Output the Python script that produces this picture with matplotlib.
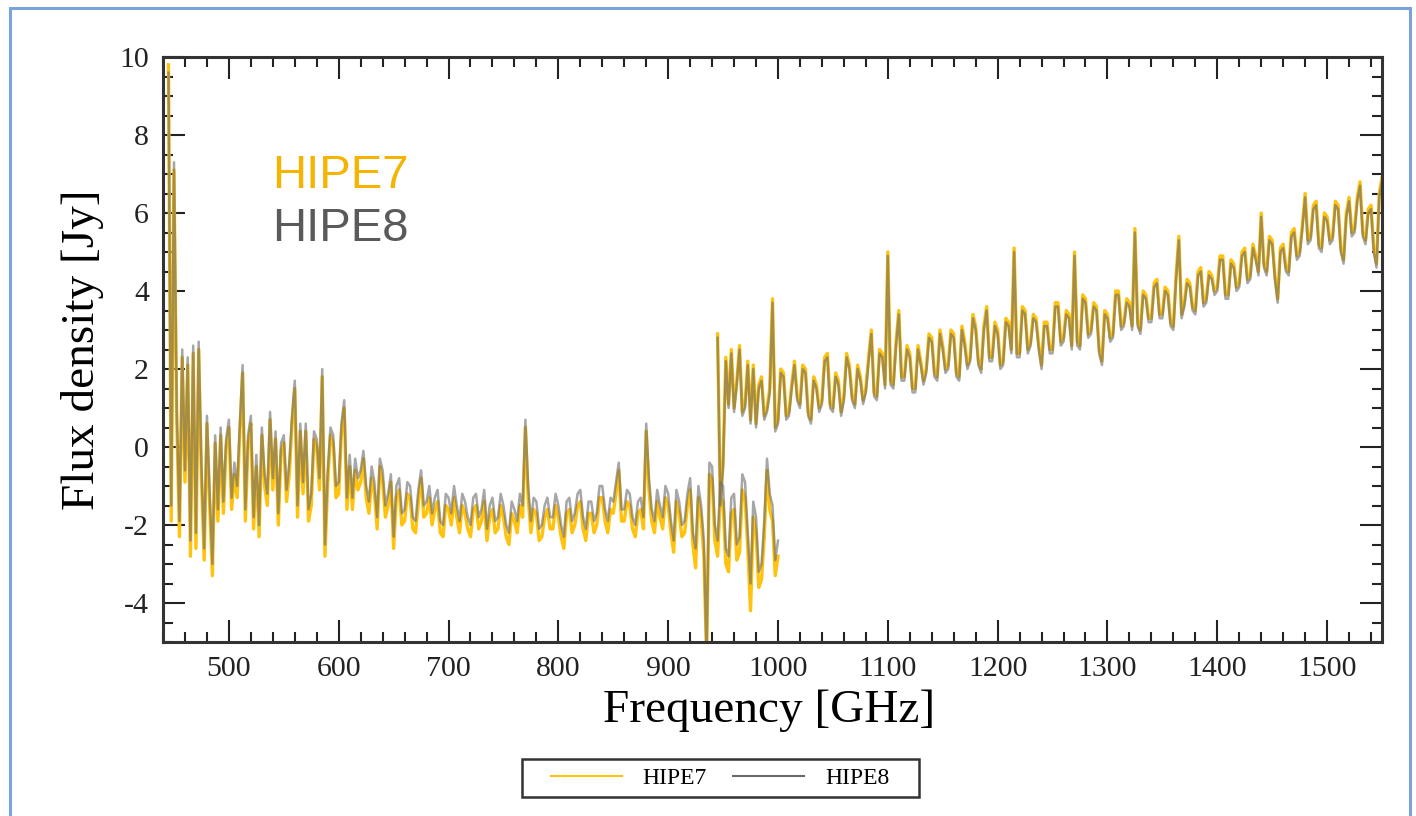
import numpy as np
import matplotlib
matplotlib.use('Agg')
import matplotlib.pyplot as plt
from matplotlib.lines import Line2D
from matplotlib.patches import Rectangle

plt.rcParams['axes.unicode_minus'] = False

# SLW band: flux [Jy], one value every 2.5 GHz starting at 445 GHz
slw_start = 445.0
slw_hipe8 = [9.6, -1.5, 7.3, 1.0, -1.9, 2.5, -0.6, 2.3, -2.4, 2.6,
             -2.2, 2.7, -0.5, -2.6, 0.8, -1.2, -3.0, 0.3, -1.6, 0.5,
             -1.4, 0.2, 0.7, -1.3, -0.4, -1.0, 0.6, 2.1, -1.6, 0.3,
             0.8, -1.8, -0.2, -2.0, 0.5, -0.7, -1.2, 0.9, -0.8, 0.4,
             -1.7, 0.1, 0.3, -1.1, -0.4, 0.8, 1.7, -1.5, 0.6, -0.9,
             0.6, -1.6, -1.2, 0.4, 0.2, -0.8, 2.0, -2.5, -0.6, 0.5,
             0.3, -1.0, -0.9, 0.6, 1.2, -1.3, -0.2, -1.3, -0.3, -0.8,
             -0.6, -0.1, -1.0, -1.4, -0.5, -0.9, -1.8, -0.3, -0.6, -1.5,
             -1.2, -0.7, -2.3, -1.0, -0.8, -1.7, -1.6, -0.9, -1.0, -1.8,
             -1.9, -1.1, -0.6, -1.5, -1.4, -1.0, -1.7, -1.3, -1.1, -1.9,
             -2.0, -1.2, -1.3, -1.7, -1.0, -1.5, -1.9, -1.2, -1.4, -1.8,
             -2.0, -1.3, -1.2, -1.8, -1.6, -1.1, -2.1, -1.5, -1.3, -1.9,
             -1.8, -1.2, -1.5, -2.0, -2.2, -1.4, -1.6, -1.9, -1.2, -1.5,
             0.7, -1.0, -1.9, -1.3, -1.4, -2.1, -2.0, -1.5, -1.3, -1.8,
             -1.8, -1.2, -1.5, -2.0, -2.3, -1.4, -1.3, -1.9, -1.7, -1.2,
             -1.1, -1.8, -2.1, -1.4, -1.4, -1.9, -1.7, -1.0, -1.0, -1.6,
             -1.9, -1.3, -1.4, -0.9, -0.4, -1.6, -1.6, -1.1, -1.2, -1.8,
             -2.0, -1.4, -1.3, -1.8, 0.6, -0.8, -1.6, -1.9, -1.1, -1.5,
             -1.8, -1.0, -1.2, -1.9, -2.4, -1.1, -1.4, -2.0, -1.9, -1.2,
             -0.8, -2.2, -2.6, -1.0, -1.5, -2.4, -5.4, -0.4, -0.5, -2.0,
             -2.4, -0.9, -1.0, -2.6, -2.8, -1.3, -1.2, -2.5, -2.3, -0.7,
             -0.9, -2.2, -3.5, -1.4, -1.8, -3.2, -3.0, -1.9, -0.3, -1.2,
             -1.5, -2.9, -2.4]
slw_hipe7 = [9.8, -1.9, 7.1, 0.7, -2.3, 2.3, -0.9, 2.1, -2.8, 2.4,
             -2.6, 2.5, -0.8, -2.9, 0.6, -1.5, -3.3, 0.1, -1.9, 0.3,
             -1.7, 0.0, 0.5, -1.6, -0.7, -1.3, 0.4, 1.9, -1.9, 0.1,
             0.6, -2.1, -0.5, -2.3, 0.3, -1.0, -1.5, 0.7, -1.1, 0.2,
             -2.0, -0.1, 0.1, -1.4, -0.7, 0.6, 1.5, -1.8, 0.4, -1.2,
             0.4, -1.9, -1.5, 0.2, 0.0, -1.1, 1.8, -2.8, -0.9, 0.3,
             0.1, -1.3, -1.2, 0.4, 1.0, -1.6, -0.5, -1.6, -0.6, -1.1,
             -0.9, -0.3, -1.3, -1.7, -0.8, -1.2, -2.1, -0.5, -0.9, -1.8,
             -1.5, -0.9, -2.6, -1.3, -1.1, -2.0, -1.9, -1.2, -1.3, -2.1,
             -2.2, -1.4, -0.8, -1.8, -1.7, -1.3, -2.0, -1.6, -1.4, -2.2,
             -2.3, -1.5, -1.6, -2.0, -1.3, -1.8, -2.2, -1.5, -1.7, -2.1,
             -2.3, -1.6, -1.5, -2.1, -1.9, -1.4, -2.4, -1.8, -1.6, -2.2,
             -2.1, -1.5, -1.8, -2.3, -2.5, -1.7, -1.9, -2.2, -1.5, -1.8,
             0.5, -1.3, -2.2, -1.6, -1.7, -2.4, -2.3, -1.8, -1.6, -2.1,
             -2.1, -1.5, -1.8, -2.3, -2.6, -1.7, -1.6, -2.2, -2.0, -1.5,
             -1.4, -2.1, -2.4, -1.7, -1.7, -2.2, -2.0, -1.3, -1.3, -1.9,
             -2.2, -1.6, -1.7, -1.2, -0.6, -1.9, -1.9, -1.4, -1.5, -2.1,
             -2.3, -1.7, -1.6, -2.1, 0.4, -1.1, -1.9, -2.2, -1.4, -1.8,
             -2.1, -1.3, -1.5, -2.2, -2.7, -1.4, -1.7, -2.3, -2.2, -1.5,
             -1.1, -2.5, -3.1, -1.3, -1.8, -2.8, -5.4, -0.7, -0.8, -2.4,
             -2.8, -1.3, -1.4, -3.0, -3.2, -1.7, -1.6, -2.9, -2.7, -1.1,
             -1.3, -2.6, -4.2, -1.8, -2.2, -3.6, -3.4, -2.3, -0.6, -1.6,
             -1.9, -3.3, -2.8]

# SSW band: flux [Jy], one value every 2.5 GHz starting at 945 GHz
ssw_start = 945.0
ssw_hipe8 = [2.8, -1.5, -0.5, 2.2, 1.0, 2.4, 0.9, 1.6, 2.5, 0.8,
             1.0, 2.1, 0.6, 2.0, 0.5, 1.5, 1.7, 0.7, 0.9, 1.4,
             3.7, 0.4, 0.6, 1.9, 1.8, 0.7, 0.8, 1.5, 2.1, 1.2,
             1.0, 2.0, 1.9, 0.8, 0.6, 1.7, 1.5, 0.9, 1.1, 2.2,
             2.3, 1.0, 0.9, 1.8, 1.6, 0.8, 1.2, 2.3, 2.0, 1.2,
             1.0, 2.0, 1.7, 1.1, 1.4, 2.2, 2.9, 1.3, 1.2, 2.4,
             2.3, 1.5, 4.9, 1.6, 1.5, 2.6, 3.4, 1.7, 1.7, 2.5,
             2.3, 1.4, 1.4, 2.5, 2.1, 1.6, 1.9, 2.8, 2.7, 1.8,
             1.7, 2.9, 2.5, 1.9, 2.0, 2.9, 2.8, 1.8, 1.7, 3.0,
             2.6, 2.0, 2.2, 3.3, 3.0, 2.1, 1.9, 3.0, 3.5, 2.2,
             2.2, 3.1, 2.9, 2.0, 2.1, 3.2, 3.1, 2.4, 5.0, 2.3,
             2.3, 3.5, 3.4, 2.4, 2.6, 3.3, 3.2, 2.5, 2.0, 3.1,
             3.1, 2.4, 2.4, 3.6, 3.6, 2.6, 2.7, 3.4, 3.3, 2.5,
             4.9, 2.6, 2.5, 3.8, 3.7, 2.8, 2.9, 3.6, 3.5, 2.4,
             2.1, 3.4, 3.3, 2.7, 2.8, 3.9, 3.9, 3.0, 3.1, 3.7,
             3.6, 3.0, 5.5, 3.1, 2.9, 3.9, 3.8, 3.2, 3.2, 4.1,
             4.2, 3.3, 3.3, 4.0, 3.9, 3.1, 3.0, 4.3, 5.3, 3.3,
             3.6, 4.2, 4.1, 3.5, 3.4, 4.4, 4.5, 3.6, 3.7, 4.4,
             4.3, 3.9, 4.0, 4.8, 4.8, 3.8, 3.8, 4.7, 4.6, 4.0,
             4.1, 4.9, 5.0, 4.2, 4.3, 5.1, 4.8, 4.4, 5.9, 4.6,
             4.4, 5.3, 5.2, 4.3, 3.7, 5.0, 5.1, 4.5, 4.4, 5.4,
             5.5, 4.8, 4.9, 5.6, 6.4, 5.2, 5.3, 6.1, 6.2, 5.1,
             5.0, 5.9, 5.8, 5.2, 5.3, 6.2, 6.1, 5.0, 4.7, 5.9,
             6.3, 5.4, 5.5, 6.3, 6.7, 5.4, 5.2, 6.0, 6.1, 5.0,
             4.6, 6.4, 6.8]
ssw_hipe7 = [2.9, -1.4, -0.4, 2.3, 1.1, 2.5, 1.0, 1.7, 2.6, 0.9,
             1.1, 2.2, 0.7, 2.1, 0.6, 1.6, 1.8, 0.8, 1.0, 1.5,
             3.8, 0.5, 0.7, 2.0, 1.9, 0.8, 0.9, 1.6, 2.2, 1.3,
             1.1, 2.1, 2.0, 0.9, 0.7, 1.8, 1.6, 1.0, 1.2, 2.3,
             2.4, 1.1, 1.0, 1.9, 1.7, 0.9, 1.3, 2.4, 2.1, 1.3,
             1.1, 2.1, 1.8, 1.2, 1.5, 2.3, 3.0, 1.4, 1.3, 2.5,
             2.4, 1.6, 5.0, 1.7, 1.6, 2.7, 3.5, 1.8, 1.8, 2.6,
             2.4, 1.5, 1.5, 2.6, 2.2, 1.7, 2.0, 2.9, 2.8, 1.9,
             1.8, 3.0, 2.6, 2.0, 2.1, 3.0, 2.9, 1.9, 1.8, 3.1,
             2.7, 2.1, 2.3, 3.4, 3.1, 2.2, 2.0, 3.1, 3.6, 2.3,
             2.3, 3.2, 3.0, 2.1, 2.2, 3.3, 3.2, 2.5, 5.1, 2.4,
             2.4, 3.6, 3.5, 2.5, 2.7, 3.4, 3.3, 2.6, 2.1, 3.2,
             3.2, 2.5, 2.5, 3.7, 3.7, 2.7, 2.8, 3.5, 3.4, 2.6,
             5.0, 2.7, 2.6, 3.9, 3.8, 2.9, 3.0, 3.7, 3.6, 2.5,
             2.2, 3.5, 3.4, 2.8, 2.9, 4.0, 4.0, 3.1, 3.2, 3.8,
             3.7, 3.1, 5.6, 3.2, 3.0, 4.0, 3.9, 3.3, 3.3, 4.2,
             4.3, 3.4, 3.4, 4.1, 4.0, 3.2, 3.1, 4.4, 5.4, 3.4,
             3.7, 4.3, 4.2, 3.6, 3.5, 4.5, 4.6, 3.7, 3.8, 4.5,
             4.4, 4.0, 4.1, 4.9, 4.9, 3.9, 3.9, 4.8, 4.7, 4.1,
             4.2, 5.0, 5.1, 4.3, 4.4, 5.2, 4.9, 4.5, 6.0, 4.7,
             4.5, 5.4, 5.3, 4.4, 3.8, 5.1, 5.2, 4.6, 4.5, 5.5,
             5.6, 4.9, 5.0, 5.7, 6.5, 5.3, 5.4, 6.2, 6.3, 5.2,
             5.1, 6.0, 5.9, 5.3, 5.4, 6.3, 6.2, 5.1, 4.8, 6.0,
             6.4, 5.5, 5.6, 6.4, 6.8, 5.5, 5.3, 6.1, 6.2, 5.1,
             4.7, 6.5, 6.9]
step = 2.5


def freqs(start, vals):
    return start + step * np.arange(len(vals))


c7 = '#FFC20E'
c8 = '#6B6B6B'
serif = 'Liberation Serif'

fig = plt.figure(figsize=(14.16, 8.16), dpi=100)
ax = fig.add_axes([163/1416, 1-642/816, (1382-163)/1416, (642-57)/816])

for start, y in [(slw_start, slw_hipe7), (ssw_start, ssw_hipe7)]:
    ax.plot(freqs(start, y), y, color=c7, lw=2.4)
for start, y in [(slw_start, slw_hipe8), (ssw_start, ssw_hipe8)]:
    ax.plot(freqs(start, y), y, color=c8, lw=1.8, alpha=0.6)

ax.set_xlim(440, 1550)
ax.set_ylim(-5, 10)
ax.set_xticks(np.arange(500, 1501, 100))
ax.set_xticks(np.arange(440, 1551, 20), minor=True)
ax.set_yticks(np.arange(-4, 11, 2))
ax.set_yticks(np.arange(-5, 10.01, 0.5), minor=True)
ax.tick_params(which='both', direction='in', top=True, right=True, colors='#222222', width=1.5)
ax.tick_params(which='major', length=16, pad=10, labelsize=21.5)
ax.tick_params(which='minor', length=7)
for lab in ax.get_xticklabels() + ax.get_yticklabels():
    lab.set_family(serif)
for s in ax.spines.values():
    s.set_linewidth(2.2)
    s.set_color('#333333')

fig.text(769/1416, 1-711/816, 'Frequency [GHz]', family=serif, fontsize=34, ha='center', va='center')
fig.text(83/1416, 1-350/816, 'Flux density [Jy]', family=serif, fontsize=34, ha='center', va='center', rotation=90)

ax.text(539, 6.63, 'HIPE7', color='#F5B400', fontsize=34, family='Liberation Sans', va='baseline')
ax.text(539, 5.27, 'HIPE8', color='#5A5A5A', fontsize=34, family='Liberation Sans', va='baseline')

handles = [Line2D([], [], color=c7, lw=1.5), Line2D([], [], color=c8, lw=1.5)]
leg = fig.legend(handles, ['HIPE7', 'HIPE8'], loc='center', bbox_to_anchor=(720/1416, 1-778/816),
                 ncol=2, prop={'family': serif, 'size': 17}, frameon=False,
                 handlelength=3.0, handletextpad=0.9, columnspacing=1.1, borderpad=0.3)
fig.add_artist(Rectangle((522/1416, 1-797/816), 397/1416, 38/816, transform=fig.transFigure,
                         fill=False, edgecolor='#333333', lw=1.8))

fig.add_artist(Rectangle((10/1416, -0.02), 1400/1416, 1.02-8/816, transform=fig.transFigure,
                         fill=False, edgecolor='#7BA3DB', lw=2.2))

fig.savefig('out.png', dpi=100)
